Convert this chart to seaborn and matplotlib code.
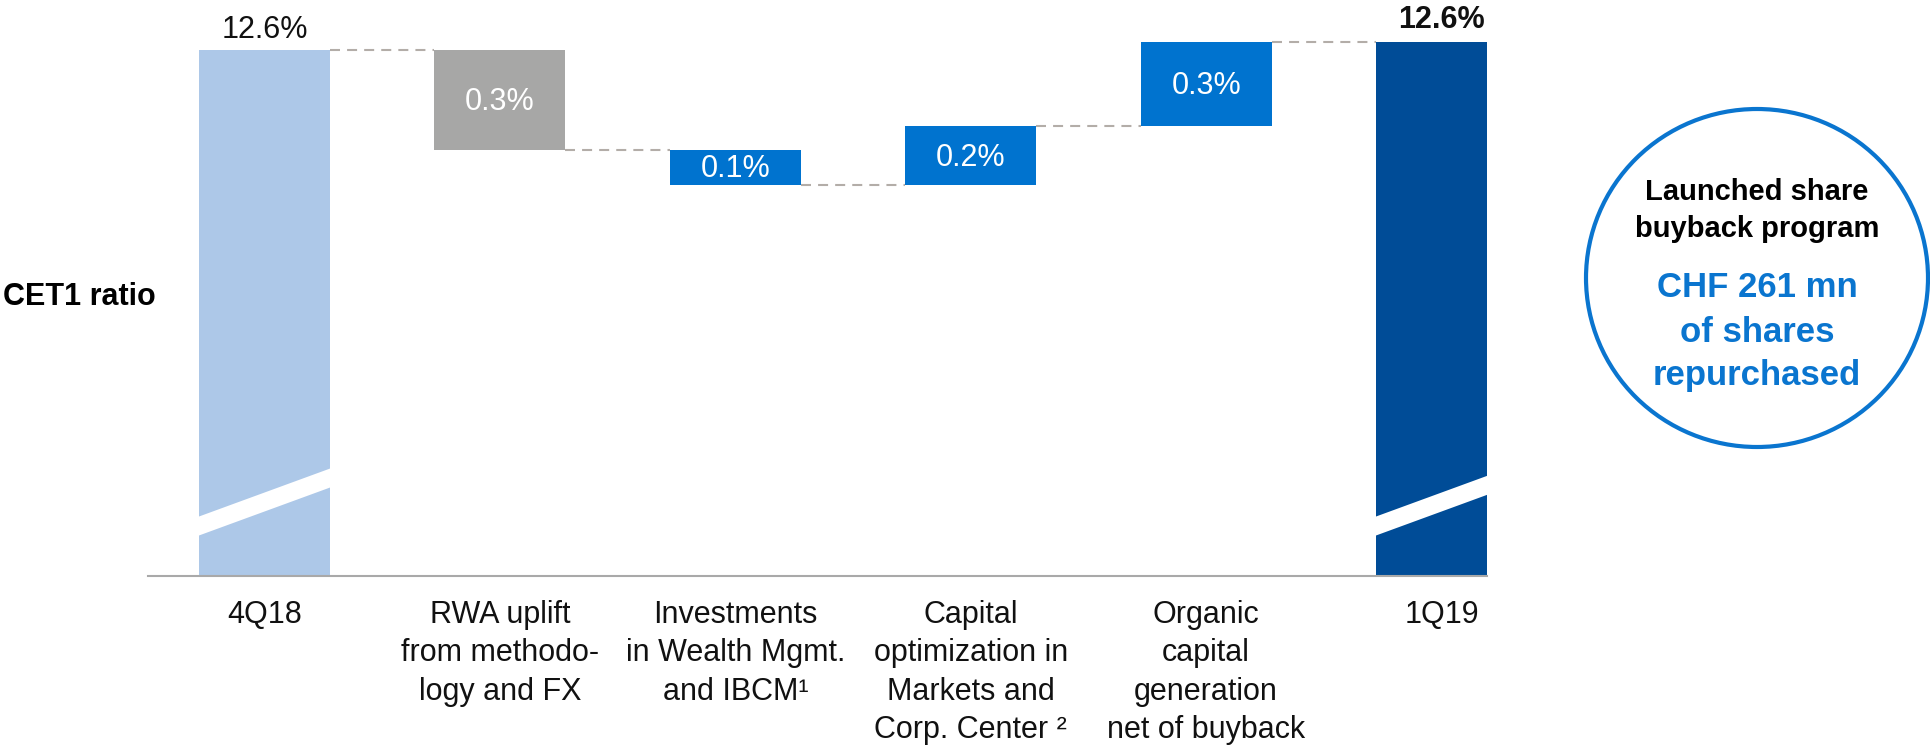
import numpy as np
import seaborn as sns
import matplotlib.pyplot as plt
from matplotlib.patches import Ellipse, Polygon

# CET1 ratio bridge 4Q18 -> 1Q19 (in %)
categories = ["4Q18",
              "RWA uplift\nfrom methodo-\nlogy and FX",
              "Investments\nin Wealth Mgmt.\nand IBCM\u00b9",
              "Capital\noptimization in\nMarkets and\nCorp. Center \u00b2",
              "Organic\ncapital\ngeneration\nnet of buyback",
              "1Q19"]
start_value = 12.60
deltas = [-0.30, -0.105, 0.175, 0.255]
end_value = 12.625
bar_labels = ["12.6%", "0.3%", "0.1%", "0.2%", "0.3%", "12.6%"]
bar_colors = ["#adc8e8", "#a7a7a6", "#0073cf", "#0073cf", "#0073cf", "#004c97"]

circle_head = ["Launched share", "buyback program"]
circle_body = ["CHF 261 mn", "of shares", "repurchased"]

# waterfall geometry
levels = np.concatenate([[start_value], start_value + np.cumsum(deltas)])
bottoms = [0] + list(np.minimum(levels[:-1], levels[1:])) + [0]
heights = [start_value] + list(np.abs(deltas)) + [end_value]

sns.set_theme(style="white")
plt.rcParams["font.family"] = ["Liberation Sans", "DejaVu Sans"]

W, H = 1931, 749
fig = plt.figure(figsize=(W / 100, H / 100), dpi=100)
ax = fig.add_axes([148 / W, 173 / H, (1487 - 148) / W, 576 / H])

bw = 0.5565
sns.barplot(x=categories, y=heights, bottom=bottoms, color=bar_colors[0],
            saturation=1, width=bw, linewidth=0, ax=ax)
for patch, c in zip(ax.patches, bar_colors):
    patch.set_facecolor(c)
    patch.set_edgecolor(c)

ymin = 11.02
ax.set_ylim(ymin, ymin + 576 / 333)
ax.set_xlim(-0.495, 5.193)

# dashed connectors
for i in range(len(levels)):
    ax.plot([i + bw / 2, i + 1 - bw / 2], [levels[i], levels[i]],
            color="#b3ada8", lw=1.5, dashes=(4.8, 3.4), zorder=1)

# axis break slashes on the total bars
for i in [0, 5]:
    x0, x1 = i - bw / 2 - 0.02, i + bw / 2 + 0.02
    y0 = 11.165
    rise = 0.144 * (x1 - x0) / bw
    t = 0.057
    ax.add_patch(Polygon([(x0, y0 + t / 2), (x1, y0 + rise + t / 2),
                          (x1, y0 + rise - t / 2), (x0, y0 - t / 2)],
                         closed=True, facecolor="white", edgecolor="none",
                         zorder=5))

# labels
ax.annotate(bar_labels[0], (0, start_value), xytext=(0, 8.6),
            textcoords="offset points", ha="center", va="baseline",
            fontsize=22, color="#111111")
ax.annotate(bar_labels[5], (5, end_value), xytext=(0, 9.4),
            textcoords="offset points", ha="center", va="baseline",
            fontsize=22, fontweight="bold", color="#111111")
for i in range(1, 5):
    ax.annotate(bar_labels[i], (i, bottoms[i] + heights[i] / 2),
                xytext=(0, -1.5), textcoords="offset points",
                ha="center", va="center", fontsize=22, color="white")

# axes styling
for side in ["left", "right", "top"]:
    ax.spines[side].set_visible(False)
ax.spines["bottom"].set_color("#a9a9a9")
ax.spines["bottom"].set_linewidth(1.5)
ax.set_yticks([])
ax.set_ylabel("")
ax.tick_params(axis="x", length=0, pad=17, labelsize=22, labelcolor="#111111")
for lbl in ax.get_xticklabels():
    lbl.set_linespacing(1.37)

fig.text(3 / W, (H - 305) / H, "CET1 ratio", fontsize=22, fontweight="bold",
         va="baseline", ha="left", color="black")

# circle callout
fig.add_artist(Ellipse((1757 / W, (H - 278) / H), width=342 / W, height=338 / H,
                       transform=fig.transFigure, fill=False,
                       edgecolor="#0a75cf", lw=3))
for line, base in zip(circle_head, [200, 237]):
    fig.text(1757 / W, (H - base) / H, line, fontsize=21, fontweight="bold",
             ha="center", va="baseline", color="black")
for line, base in zip(circle_body, [297, 342, 385]):
    fig.text(1757 / W, (H - base) / H, line, fontsize=25, fontweight="bold",
             ha="center", va="baseline", color="#0a75cf")

fig.savefig("out.png", dpi=100)
